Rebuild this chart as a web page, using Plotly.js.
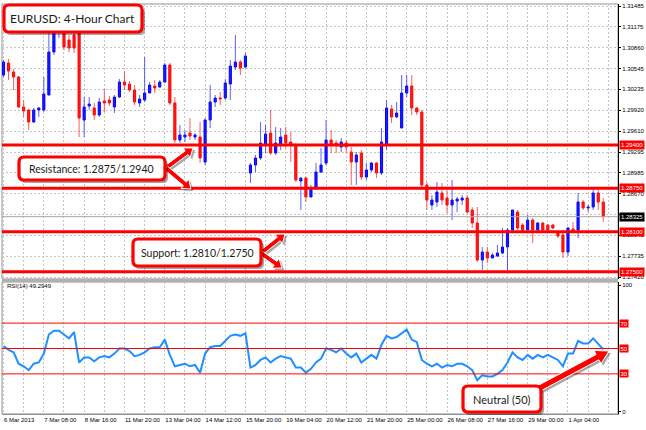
<!DOCTYPE html>
<html><head><meta charset="utf-8">
<script src="https://cdn.plot.ly/plotly-3.0.1.min.js"></script>
<style>html,body{margin:0;padding:0;background:#fff;}#chart{width:646px;height:430px;}</style>
</head><body><div id="chart"></div>
<script>
// ---------------- DATA ----------------
const open = [
1.30450,1.30630,1.30495,1.30420,1.29970,1.29925,1.29745,1.29925,1.29925,1.30150,
1.30795,1.31125,1.31200,1.30975,1.31050,1.31080,1.29775,1.29985,1.29955,1.29850,
1.30060,1.30075,1.29970,1.30120,1.30345,1.30315,1.30225,1.30030,1.30075,1.30180,
1.30285,1.30270,1.30345,1.30600,1.30030,1.29475,1.29520,1.29580,1.29520,1.29520,
1.29145,1.29775,1.30045,1.30105,1.30105,1.30315,1.30570,1.30645,1.30570,1.28980,
1.29100,1.29205,1.29400,1.29580,1.29280,1.29400,1.29550,1.29445,1.29400,1.28860,
1.28905,1.28620,1.28755,1.28995,1.29130,1.29475,1.29430,1.29370,1.29430,1.29295,
1.29145,1.29280,1.28920,1.29025,1.29130,1.28980,1.29400,1.29940,1.29820,1.29655,
1.30180,1.30285,1.29955,1.29895,1.28800,1.28500,1.28545,1.28680,1.28605,1.28500,
1.28560,1.28575,1.28605,1.28425,1.28230,1.27675,1.27795,1.27705,1.27735,1.27780,
1.27870,1.28125,1.28395,1.28200,1.28125,1.28275,1.28125,1.28230,1.28200,1.28200,
1.28080,1.28050,1.27795,1.28140,1.28125,1.28545,1.28455,1.28470,1.28680,1.28545];
const high = [
1.30675,1.30690,1.30540,1.30435,1.30075,1.29940,1.29955,1.29970,1.30420,1.31080,
1.31275,1.31350,1.31275,1.31050,1.31080,1.31125,1.30120,1.30120,1.30030,1.30105,
1.30240,1.30135,1.30150,1.30390,1.30510,1.30360,1.30300,1.30150,1.30720,1.30345,
1.30375,1.30375,1.30630,1.30630,1.30120,1.29700,1.29625,1.29805,1.29580,1.29745,
1.29805,1.30300,1.30150,1.30195,1.30390,1.30675,1.31050,1.30675,1.30780,1.29130,
1.29250,1.29745,1.29700,1.29925,1.29670,1.29655,1.29670,1.29595,1.29430,1.28905,
1.28920,1.28800,1.29130,1.29355,1.29775,1.29625,1.29475,1.29505,1.29475,1.29370,
1.29295,1.29325,1.29130,1.29145,1.29145,1.29655,1.30075,1.30000,1.30045,1.30450,
1.30450,1.30450,1.29970,1.29925,1.28845,1.28650,1.28845,1.28830,1.28725,1.28875,
1.28620,1.28650,1.28650,1.28470,1.28470,1.27870,1.27870,1.27780,1.27900,1.28155,
1.28155,1.28425,1.28425,1.28230,1.28350,1.28305,1.28245,1.28245,1.28215,1.28215,
1.28110,1.28080,1.28170,1.28245,1.28680,1.28575,1.28500,1.28755,1.28725,1.28605];
const low = [
1.30420,1.30375,1.30225,1.29955,1.29820,1.29625,1.29730,1.29820,1.29895,1.30150,
1.30750,1.31005,1.30825,1.30795,1.30780,1.29520,1.29520,1.29925,1.29775,1.29820,
1.29895,1.29985,1.29880,1.30105,1.30225,1.30195,1.30000,1.29970,1.30045,1.30180,
1.30180,1.30255,1.30330,1.30000,1.29430,1.29430,1.29445,1.29475,1.29475,1.29130,
1.29100,1.29655,1.29970,1.30000,1.30075,1.30075,1.30525,1.30450,1.30555,1.28830,
1.28995,1.29175,1.29280,1.29250,1.29250,1.29325,1.29355,1.29145,1.28845,1.28425,
1.28545,1.28620,1.28725,1.28980,1.29100,1.29280,1.29280,1.29295,1.29280,1.28800,
1.28800,1.28875,1.28875,1.28995,1.28905,1.28950,1.29325,1.29730,1.29805,1.29655,
1.30120,1.29850,1.29850,1.28770,1.28425,1.28425,1.28470,1.28500,1.28380,1.28275,
1.28395,1.28500,1.28380,1.28155,1.27645,1.27525,1.27630,1.27705,1.27720,1.27765,
1.27525,1.28095,1.28125,1.28095,1.28125,1.27930,1.28125,1.28110,1.28110,1.28140,
1.28005,1.27705,1.27735,1.28095,1.28005,1.28425,1.28395,1.28425,1.28425,1.28245];
const close = [
1.30645,1.30510,1.30420,1.29970,1.29910,1.29745,1.29925,1.29955,1.30165,1.30795,
1.31155,1.31245,1.30870,1.30855,1.30855,1.29805,1.29970,1.30015,1.29850,1.30045,
1.30030,1.30030,1.30120,1.30345,1.30300,1.30225,1.30045,1.30090,1.30180,1.30300,
1.30255,1.30345,1.30600,1.30030,1.29475,1.29550,1.29550,1.29535,1.29550,1.29205,
1.29775,1.30045,1.30105,1.30090,1.30330,1.30585,1.30645,1.30555,1.30735,1.29100,
1.29205,1.29430,1.29565,1.29280,1.29430,1.29520,1.29430,1.29415,1.28875,1.28905,
1.28620,1.28755,1.28995,1.29100,1.29475,1.29400,1.29400,1.29445,1.29370,1.29145,
1.29250,1.28920,1.29025,1.29130,1.28980,1.29445,1.29955,1.29820,1.29880,1.30180,
1.30285,1.29955,1.29895,1.28800,1.28575,1.28575,1.28695,1.28575,1.28500,1.28575,
1.28590,1.28605,1.28395,1.28230,1.27675,1.27795,1.27705,1.27750,1.27780,1.27870,
1.28125,1.28425,1.28155,1.28125,1.28275,1.28125,1.28230,1.28125,1.28125,1.28155,
1.28035,1.27795,1.28155,1.28110,1.28545,1.28455,1.28470,1.28680,1.28545,1.28325];
const rsi = [
52,49,47,38,36,33,38,39,46,61, 64,64,61,58,63,39,43,43,40,43,
44,43,46,50,50,48,44,45,47,50, 51,51,57,45,36,37,38,36,37,31,
46,51,52,52,56,60,61,60,62,35, 37,41,43,39,42,44,43,42,35,35,
31,34,39,42,50,49,47,50,46,43, 46,39,42,45,42,53,60,58,59,62,
65,57,55,41,38,36,38,35,37,36, 38,38,36,33,25,29,28,28,30,33,
39,47,43,41,45,42,45,43,45,43, 41,36,46,46,56,54,54,58,54,49.2949];
const timeLabels = ["6 Mar 2013","7 Mar 08:00","8 Mar 16:00","11 Mar 20:00","13 Mar 04:00",
  "14 Mar 12:00","15 Mar 20:00","19 Mar 04:00","20 Mar 12:00","21 Mar 20:00","25 Mar 00:00",
  "26 Mar 08:00","27 Mar 16:00","29 Mar 00:00","1 Apr 04:00"];
const barsPerLabel = 8;
const priceTicks = [1.31485,1.31175,1.30860,1.30545,1.30235,1.29920,1.29610,1.29295,
  1.28985,1.28670,1.28360,1.28045,1.27735,1.27420];
const hiddenPriceTicks = [1.28360];
const srLevels = [1.2940, 1.2875, 1.2810, 1.2750];
const currentPrice = 1.28325;
const rsiLevels = [70, 50, 30];
const rsiTicks = [0, 100];
const rsiName = "RSI(14)";
const titleText = "EURUSD: 4-Hour Chart";
const resistanceText = "Resistance: 1.2875/1.2940";
const supportText = "Support: 1.2810/1.2750";
const neutralText = "Neutral (50)";

// ---------------- BUILD ----------------
const W = 646, H = 430, ML = 2, MR = 28, MT = 4, MB = 16;
const PW = W - ML - MR, PH = H - MT - MB;
const PX = x => (x - ML) / PW;
const PY = y => (H - MB - y) / PH;
const BLUE = '#0000ff', RED = '#ff0000';

const idx = open.map((_, i) => i);
const up = idx.filter(i => close[i] >= open[i]);
const dn = idx.filter(i => close[i] < open[i]);

function wicks(list) {
  const x = [], y = [];
  list.forEach(i => { x.push(i, i, null); y.push(low[i], high[i], null); });
  return {x, y};
}
const wu = wicks(up), wd = wicks(dn);

const traces = [
  {type:'scatter', mode:'lines', x:wu.x, y:wu.y, line:{color:'rgba(40,40,255,0.75)', width:1}, hoverinfo:'skip', xaxis:'x', yaxis:'y', connectgaps:false},
  {type:'scatter', mode:'lines', x:wd.x, y:wd.y, line:{color:'rgba(255,40,40,0.75)', width:1}, hoverinfo:'skip', xaxis:'x', yaxis:'y', connectgaps:false},
  {type:'bar', x:up, base:up.map(i => open[i]), y:up.map(i => close[i] - open[i]), width:0.42,
   marker:{color:BLUE, line:{color:BLUE, width:1}}, xaxis:'x', yaxis:'y', hoverinfo:'skip'},
  {type:'bar', x:dn, base:dn.map(i => close[i]), y:dn.map(i => open[i] - close[i]), width:0.42,
   marker:{color:RED, line:{color:RED, width:1}}, xaxis:'x', yaxis:'y', hoverinfo:'skip'},
  {type:'scatter', mode:'lines', x:idx, y:rsi, line:{color:'#1e90ff', width:2}, xaxis:'x2', yaxis:'y2', hoverinfo:'skip'}
];

const tickvals = [], ticktext = [];
for (let k = 0; k <= timeLabels.length * 2; k++) {
  tickvals.push(k * barsPerLabel / 2);
  ticktext.push(k % 2 === 0 && timeLabels[k / 2] ? timeLabels[k / 2] : '');
}

const xr = [-0.3, -0.3 + PW / 5.04];
const priceDomTop = 1, priceDomBot = PY(279), rsiDomTop = PY(282);

function rr(x0, y0, x1, y1, r) {
  const p = (x, y) => PX(x).toFixed(5) + ',' + PY(y).toFixed(5);
  return 'M' + p(x0 + r, y0) + ' L' + p(x1 - r, y0) + ' Q' + p(x1, y0) + ' ' + p(x1, y0 + r) +
    ' L' + p(x1, y1 - r) + ' Q' + p(x1, y1) + ' ' + p(x1 - r, y1) +
    ' L' + p(x0 + r, y1) + ' Q' + p(x0, y1) + ' ' + p(x0, y1 - r) +
    ' L' + p(x0, y0 + r) + ' Q' + p(x0, y0) + ' ' + p(x0 + r, y0) + ' Z';
}
function arrowPath(sx, sy, tx, ty, w, hl, hw) {
  const dx = tx - sx, dy = ty - sy, len = Math.hypot(dx, dy), ux = dx / len, uy = dy / len, nx = -uy, ny = ux;
  const bx = tx - ux * hl, by = ty - uy * hl;
  const pts = [[sx + nx * w, sy + ny * w], [bx + nx * w, by + ny * w], [bx + nx * hw, by + ny * hw], [tx, ty],
    [bx - nx * hw, by - ny * hw], [bx - nx * w, by - ny * w], [sx - nx * w, sy - ny * w]];
  return 'M' + pts.map(q => PX(q[0]).toFixed(5) + ',' + PY(q[1]).toFixed(5)).join(' L') + ' Z';
}
const shapes = [];
const SH = 'rgba(0,0,0,0.35)';
function box(x0, y0, x1, y1) {
  shapes.push({type:'path', xref:'paper', yref:'paper', path:rr(x0 + 2, y0 + 3, x1 + 3, y1 + 3, 5), fillcolor:SH, line:{width:0}});
  shapes.push({type:'path', xref:'paper', yref:'paper', path:rr(x0, y0, x1, y1, 5), fillcolor:'#ffffff', line:{color:RED, width:3.2}});
}
function arrow(sx, sy, tx, ty, w, hl, hw) {
  shapes.push({type:'path', xref:'paper', yref:'paper', path:arrowPath(sx + 2, sy + 2, tx + 2, ty + 2, w, hl, hw), fillcolor:SH, line:{width:0}});
  shapes.push({type:'path', xref:'paper', yref:'paper', path:arrowPath(sx, sy, tx, ty, w, hl, hw), fillcolor:RED, line:{color:'#ffffff', width:1}});
}

// panel frames and separator
shapes.push({type:'rect', xref:'paper', yref:'paper', x0:0, x1:1, y0:priceDomBot, y1:1, line:{color:'#909090', width:1}, layer:'below'});
shapes.push({type:'rect', xref:'paper', yref:'paper', x0:0, x1:1, y0:0, y1:rsiDomTop, line:{color:'#909090', width:1}, layer:'below'});
shapes.push({type:'rect', xref:'paper', yref:'paper', x0:0, x1:1, y0:rsiDomTop, y1:priceDomBot, fillcolor:'#b0b0b0', line:{width:0}});
// current price line
shapes.push({type:'line', xref:'paper', x0:0, x1:1, yref:'y', y0:currentPrice, y1:currentPrice, line:{color:'#a8a8a8', width:1}});
// support / resistance lines
srLevels.forEach(v => shapes.push({type:'line', xref:'paper', x0:0, x1:1, yref:'y', y0:v, y1:v, line:{color:RED, width:3}}));
// RSI levels
rsiLevels.forEach(v => shapes.push({type:'line', xref:'paper', x0:0, x1:1, yref:'y2', y0:v, y1:v, line:{color:RED, width:1}}));

// callouts
box(4, 5, 142, 32);
arrow(166, 168, 193, 148, 2.3, 8, 6);
arrow(166, 168, 191, 189, 2.3, 8, 6);
box(19, 157, 165, 180);
arrow(261, 253, 285, 234, 2.3, 8, 6);
arrow(261, 253, 282, 268, 2.3, 8, 6);
box(133, 239, 261, 266);
arrow(536, 390, 609, 351, 3, 13, 7.5);
box(463, 386, 541, 412);

const annotations = [];
const smallFont = {family:'Liberation Sans, Arial, sans-serif', size:6, color:'#000'};
srLevels.forEach(v => annotations.push({xref:'paper', x:1, xanchor:'left', xshift:1, yref:'y', y:v, yanchor:'middle',
  text:v.toFixed(5), showarrow:false, bgcolor:RED, borderpad:1, font:{family:smallFont.family, size:6, color:'#fff'}}));
annotations.push({xref:'paper', x:1, xanchor:'left', xshift:1, yref:'y', y:currentPrice, yanchor:'middle',
  text:currentPrice.toFixed(5), showarrow:false, bgcolor:'#000', borderpad:1, font:{family:smallFont.family, size:6, color:'#fff'}});
rsiLevels.forEach(v => annotations.push({xref:'paper', x:1, xanchor:'left', xshift:1, yref:'y2', y:v, yanchor:'middle',
  text:String(v), showarrow:false, bgcolor:RED, borderpad:0.5, font:{family:smallFont.family, size:6, color:'#fff'}}));
annotations.push({xref:'paper', yref:'paper', x:PX(5), y:PY(286), xanchor:'left', yanchor:'middle', showarrow:false,
  text:rsiName + ' ' + rsi[rsi.length - 1].toFixed(4), font:smallFont});
const calloutFont = {family:'Lato, Open Sans, sans-serif', color:'#1a1a1a'};
function label(txt, cx, cy, size) {
  annotations.push({xref:'paper', yref:'paper', x:PX(cx), y:PY(cy), xanchor:'center', yanchor:'middle',
    showarrow:false, text:txt, font:Object.assign({size:size}, calloutFont)});
}
label(titleText, 72, 18.5, 12);
label(resistanceText, 91, 168.5, 10.5);
label(supportText, 197, 252.5, 10.5);
label(neutralText, 502, 399, 11);

const grid = {showgrid:true, gridcolor:'#c4c4c4', griddash:'2px,2px', gridwidth:1, zeroline:false};
const layout = {
  width:W, height:H, margin:{l:ML, r:MR, t:MT, b:MB, pad:0},
  paper_bgcolor:'#ffffff', plot_bgcolor:'#ffffff', showlegend:false, barmode:'overlay',
  font:smallFont,
  xaxis:Object.assign({domain:[0,1], range:xr, anchor:'y', tickmode:'array', tickvals:tickvals, ticktext:ticktext,
    showticklabels:false, ticks:'', showline:false, fixedrange:true}, grid),
  xaxis2:Object.assign({domain:[0,1], range:xr, anchor:'y2', matches:'x', tickmode:'array', tickvals:tickvals, ticktext:ticktext,
    ticklabelposition:'outside right', tickangle:0, ticks:'', tickfont:smallFont, showline:true, linecolor:'#909090',
    automargin:false, fixedrange:true}, grid),
  yaxis:Object.assign({domain:[priceDomBot, priceDomTop], range:[1.27390, 1.31515], side:'right', tickmode:'array',
    tickvals:priceTicks, ticktext:priceTicks.map(v => hiddenPriceTicks.includes(v) ? '' : v.toFixed(5)), ticks:'outside', ticklen:2, tickcolor:'#000',
    tickfont:smallFont, showline:true, linecolor:'#000', automargin:false, fixedrange:true}, grid),
  yaxis2:{domain:[0, rsiDomTop], range:[-1.6, 102.4], side:'right', anchor:'x2', tickmode:'array', tickvals:rsiTicks,
    ticktext:rsiTicks.map(String), ticks:'outside', ticklen:2, tickcolor:'#000', tickfont:smallFont, showgrid:false,
    zeroline:false, showline:true, linecolor:'#000', automargin:false, fixedrange:true},
  shapes:shapes, annotations:annotations
};
Plotly.newPlot('chart', traces, layout, {staticPlot:true, displayModeBar:false});
</script></body></html>
